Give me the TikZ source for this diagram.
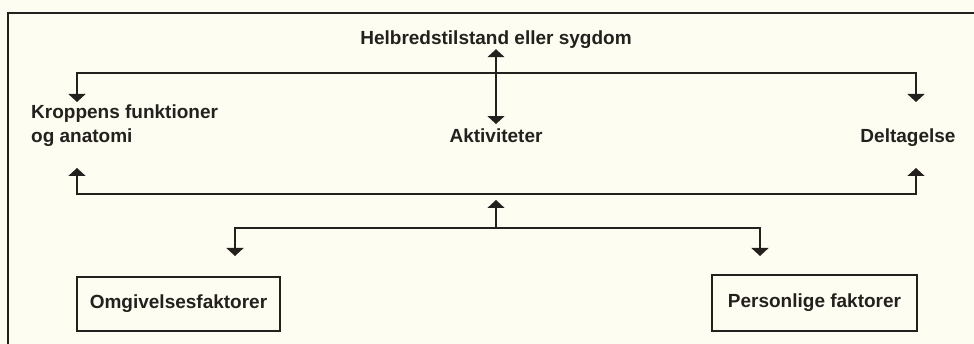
\documentclass[tikz,border=0pt]{standalone}
\usepackage{fontspec}
\setmainfont{Liberation Sans}
\usetikzlibrary{arrows.meta}
\definecolor{paper}{RGB}{254,253,242}
\definecolor{ink}{RGB}{35,32,30}
\begin{document}
\begin{tikzpicture}[x=1pt,y=-1pt,
  lbl/.style={font=\fontsize{19}{24}\selectfont\bfseries, inner sep=0pt, text=ink},
  ln/.style={draw=ink, line width=1.6pt},
  arr/.style={ln, -{Triangle[width=17pt,length=8pt]}},
  dbl/.style={ln, {Triangle[width=17pt,length=8pt]}-{Triangle[width=17pt,length=8pt]}},
  fbox/.style={lbl, draw=ink, line width=1.6pt}]
\useasboundingbox (0,0) rectangle (974,344);
\fill[paper] (0,0) rectangle (974,344);
% frame (cut off at right and bottom)
\draw[ln] (8,344) -- (8,13) -- (974,13);
% texts
\node[lbl, anchor=base] (helb) at (496,45) {Helbredstilstand eller sygdom};
\node[lbl, anchor=base] (akt) at (496,143) {Aktiviteter};
\node[lbl, anchor=north west, align=left] (krop) at (31,105) {Kroppens funktioner\\og anatomi};
\node[lbl, anchor=base] (delt) at (908,143) {Deltagelse};
\node[fbox, minimum width=203pt, minimum height=54pt] (omg) at (178.5,304) {Omgivelsesfaktorer};
\node[fbox, minimum width=205pt, minimum height=56pt] (pers) at (814.5,303) {Personlige faktorer};
% connection points
\coordinate (tl) at (77,73);
\coordinate (tr) at (916,73);
\coordinate (tlTip) at (77,102);
\coordinate (trTip) at (916,102);
\coordinate (bl) at (77,194);
\coordinate (br) at (916,194);
\coordinate (blTip) at (77,168);
\coordinate (brTip) at (916,168);
\coordinate (mb) at (496,228);
\coordinate (mbTip) at (496,200);
\coordinate (ll) at (235,228);
\coordinate (lr) at (760,228);
\coordinate (llTip) at (235,256);
\coordinate (lrTip) at (760,256);
% connectors
\draw[dbl, shorten >=5pt] (helb.south) -- (akt.north);
\draw[arr] (tr) -- (tl) -- (tlTip);
\draw[arr] (tl) -- (tr) -- (trTip);
\draw[arr] (br) -- (bl) -- (blTip);
\draw[arr] (bl) -- (br) -- (brTip);
\draw[arr] (mb) -- (mbTip);
\draw[arr] (lr) -- (ll) -- (llTip);
\draw[arr] (ll) -- (lr) -- (lrTip);
\end{tikzpicture}
\end{document}
